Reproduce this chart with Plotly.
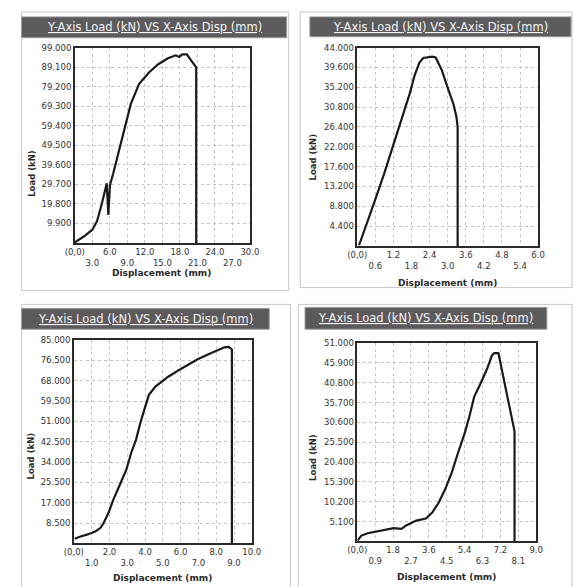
import plotly.graph_objects as go

W, H = 581, 587

# ---------------- data ----------------
disp1 = [0.0, 0.3, 1.6, 3.0, 3.8, 4.64, 5.2, 5.47, 5.75, 6.02, 6.58, 7.7, 8.8, 9.6, 11.0, 12.7, 14.3,
         15.96, 17.3, 17.9, 18.4, 19.2, 19.8, 20.8, 20.8]
load1 = [0.3, 0.9, 3.4, 6.7, 11.0, 20.0, 26.8, 30.2, 14.2, 29.3, 35.2, 48.7, 60.4, 70.5, 80.5, 86.4, 90.6,
         93.6, 95.1, 94.3, 95.6, 95.6, 93.0, 89.0, 0.0]

disp2 = [0.06, 0.25, 0.57, 0.89, 1.21, 1.48, 1.74, 1.90, 2.06, 2.19, 2.49, 2.60, 2.81, 3.03, 3.19, 3.29,
         3.33, 3.33]
load2 = [0.15, 3.6, 9.8, 16.0, 22.8, 28.8, 33.8, 37.8, 40.7, 41.7, 42.0, 41.8, 38.9, 34.5, 31.5, 28.6,
         26.4, 0.0]

disp3 = [0.05, 0.33, 0.78, 1.23, 1.5, 1.68, 1.95, 2.22, 2.59, 2.95, 3.22, 3.49, 3.76, 4.03, 4.21, 4.58,
         4.94, 5.3, 5.84, 6.38, 6.93, 7.47, 8.01, 8.46, 8.7, 8.88, 8.88]
load3 = [1.9, 2.8, 3.75, 5.1, 6.5, 8.6, 12.8, 18.3, 24.6, 30.8, 37.8, 43.3, 51.0, 57.2, 62.0, 65.6,
         67.7, 69.7, 72.2, 74.6, 76.9, 78.8, 80.6, 82.0, 82.2, 81.1, 0.0]

disp4 = [0.02, 0.21, 0.53, 1.18, 1.83, 2.22, 2.46, 2.97, 3.45, 3.78, 4.1, 4.42, 4.75, 5.07, 5.4, 5.64,
         5.88, 6.2, 6.53, 6.77, 6.89, 7.1, 7.34, 7.67, 7.91, 7.91]
load4 = [0.25, 1.5, 2.1, 2.8, 3.4, 3.2, 4.1, 5.35, 5.9, 7.5, 10.0, 13.4, 17.7, 22.8, 27.8, 32.1,
         37.2, 40.6, 44.4, 47.8, 48.4, 48.4, 42.6, 34.5, 28.3, 0.0]

x_max = [30.0, 6.0, 10.0, 9.0]
y_max = [99.0, 44.0, 85.0, 51.0]

title_text = "Y-Axis Load (kN) VS X-Axis Disp (mm)"
x_title = "Displacement (mm)"
y_title = "Load (kN)"

series = [(disp1, load1), (disp2, load2), (disp3, load3), (disp4, load4)]

# ---------------- layout geometry (pixels) ----------------
plots = [  # x0, x1, y0(top), y1(bottom)
    (67, 248, 43, 240),
    (359, 546, 43, 243),
    (66, 250, 338, 543),
    (359, 544, 341, 541),
]
bars = [(12, 286, 12, 33), (310, 580, 12, 32), (12, 268, 306, 327), (305, 555, 305, 327)]
frames = [(12, 288, 7, 288), (300, 581, 7, 285), (12, 290, 302, 600), (298, 581, 302, 600)]
ytitle_pos = [(22, 170), (313, 153), (22, 455), (313, 456)]
xtitle_pos = [(157, 270), (452, 280), (158, 578), (451, 577)]

def fx(p):
    return p / W

def fy(p):
    return 1 - p / H

FONT = "DejaVu Sans"
fig = go.Figure()
shapes = []
annotations = []

for i, ((xs, ys), (x0, x1, t, b)) in enumerate(zip(series, plots)):
    k = "" if i == 0 else str(i + 1)
    xa, ya = "x" + k, "y" + k
    fig.add_trace(go.Scatter(x=xs, y=ys, mode="lines", xaxis=xa, yaxis=ya,
                             line=dict(color="#1a1a1a", width=2.2), showlegend=False,
                             hoverinfo="skip"))
    xm, ymx = x_max[i], y_max[i]
    xstep, ystep = xm / 10, ymx / 10
    xv = [xstep * j for j in range(11)]
    xt = []
    for j, v in enumerate(xv):
        s = "%.1f" % v
        if j == 0:
            xt.append("(0,0)")
        elif j % 2 == 0:
            xt.append(s)
        else:
            xt.append("<br>" + s)
    yv = [ystep * j for j in range(1, 11)]
    yt = ["%.3f" % v for v in yv]
    axis_common = dict(showline=True, linecolor="#2a2a2a", linewidth=1.5, mirror=True,
                       showgrid=True, gridcolor="#c4c4c4", gridwidth=1, griddash="dot",
                       zeroline=False, ticks="", tickmode="array", tickangle=0,
                       tickfont=dict(family=FONT, size=8.5, color="#333333"), fixedrange=True)
    fig.update_layout(**{
        ("xaxis" + k): dict(domain=[fx(x0), fx(x1)], range=[0, xm], tickvals=xv, ticktext=xt,
                            anchor=ya, **axis_common),
        ("yaxis" + k): dict(domain=[fy(b), fy(t)], range=[0, ymx], tickvals=yv, ticktext=yt,
                            anchor=xa, **axis_common),
    })
    # panel frame
    fx0, fx1, fy0, fy1 = frames[i]
    shapes.append(dict(type="rect", xref="paper", yref="paper", x0=fx(fx0), x1=fx(fx1),
                       y0=fy(fy1), y1=fy(fy0), line=dict(color="#c8c8c8", width=1),
                       fillcolor="rgba(0,0,0,0)", layer="below"))
    # title bar
    bx0, bx1, by0, by1 = bars[i]
    shapes.append(dict(type="rect", xref="paper", yref="paper", x0=fx(bx0), x1=fx(bx1),
                       y0=fy(by1), y1=fy(by0), line=dict(color="#9a9a9a", width=1),
                       fillcolor="#5c5a5c"))
    annotations.append(dict(xref="paper", yref="paper", x=fx((bx0 + bx1) / 2), y=fy((by0 + by1) / 2),
                            text="<u>" + title_text + "</u>", showarrow=False,
                            font=dict(family=FONT, size=11.5, color="#f4f4f4"),
                            xanchor="center", yanchor="middle"))
    tx, ty = ytitle_pos[i]
    annotations.append(dict(xref="paper", yref="paper", x=fx(tx), y=fy(ty), text="<b>" + y_title + "</b>",
                            textangle=-90, showarrow=False,
                            font=dict(family=FONT, size=8.5, color="#2a2a2a"),
                            xanchor="center", yanchor="middle"))
    tx, ty = xtitle_pos[i]
    annotations.append(dict(xref="paper", yref="paper", x=fx(tx), y=fy(ty), text="<b>" + x_title + "</b>",
                            showarrow=False, font=dict(family=FONT, size=9, color="#2a2a2a"),
                            xanchor="center", yanchor="middle"))

fig.update_layout(width=W, height=H, margin=dict(l=0, r=0, t=0, b=0),
                  paper_bgcolor="white", plot_bgcolor="white",
                  shapes=shapes, annotations=annotations, showlegend=False)

fig.write_html("out.html", config={"displayModeBar": False},
               post_script="document.body.style.margin='0';document.body.style.overflow='hidden';")
